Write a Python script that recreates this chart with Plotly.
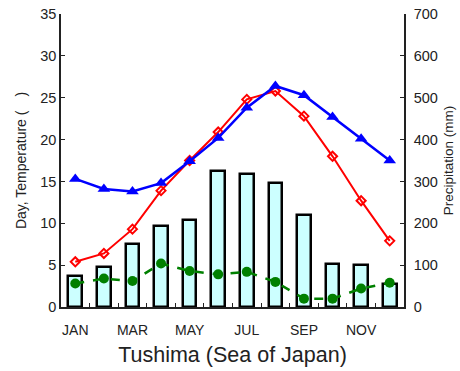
import plotly.graph_objects as go

months = ["JAN", "FEB", "MAR", "APR", "MAY", "JUN",
          "JUL", "AUG", "SEP", "OCT", "NOV", "DEC"]
month_idx = list(range(1, 13))

# Monthly precipitation (mm), right axis
precipitation = [75, 95, 150, 193, 207, 324, 318, 296, 220, 103, 101, 56]
# Air temperature, left axis
air_temp = [5.4, 6.4, 9.3, 13.9, 17.5, 20.9, 24.8, 25.8, 22.8, 18.0, 12.7, 7.9]
# Sea surface temperature, left axis
sea_temp = [15.3, 14.1, 13.8, 14.8, 17.4, 20.2, 23.8, 26.4, 25.3, 22.7, 20.1, 17.5]
# Days, left axis
days = [2.8, 3.4, 3.1, 5.2, 4.3, 3.9, 4.2, 3.0, 1.0, 1.0, 2.2, 2.9]

label_months = [1, 3, 5, 7, 9, 11]
label_text = [months[i - 1] for i in label_months]
boundary_ticks = [m + 0.5 for m in range(1, 12)]

FONT = "Liberation Sans, Arial, sans-serif"
INK = "#222222"

fig = go.Figure()

# Precipitation bars sit on the base y axis (drawn underneath)
fig.add_trace(go.Bar(
    x=month_idx, y=precipitation, yaxis="y", xaxis="x",
    width=0.48,
    marker=dict(color="#ccffff", line=dict(color="black", width=2.5)),
    showlegend=False,
))

# Lines live on the overlaying axis so they render above the bars
fig.add_trace(go.Scatter(
    x=month_idx, y=days, yaxis="y2", xaxis="x",
    mode="lines+markers",
    line=dict(color="#008000", width=2.5, dash="dash"),
    marker=dict(symbol="circle", size=10, color="#008000"),
    showlegend=False,
))
fig.add_trace(go.Scatter(
    x=month_idx, y=air_temp, yaxis="y2", xaxis="x",
    mode="lines+markers",
    line=dict(color="#ff0000", width=2),
    marker=dict(symbol="diamond-open", size=7, color="#ff0000",
                line=dict(width=2, color="#ff0000")),
    showlegend=False,
))
fig.add_trace(go.Scatter(
    x=month_idx, y=sea_temp, yaxis="y2", xaxis="x",
    mode="lines+markers",
    line=dict(color="#0000ff", width=2.5),
    marker=dict(symbol="triangle-up", size=11, color="#0000ff"),
    showlegend=False,
))

axis_font = dict(family=FONT, size=14.5, color=INK)

fig.update_layout(
    width=460, height=371,
    margin=dict(l=61, r=56, t=14, b=64),
    paper_bgcolor="white", plot_bgcolor="white",
    bargap=0,
    xaxis=dict(
        range=[0.5, 12.5], tickvals=label_months, ticktext=label_text,
        ticks="", showline=True, linecolor=INK, linewidth=1.5,
        tickfont=dict(family=FONT, size=14, color=INK),
        ticklabelstandoff=9, automargin=False,
        showgrid=False, zeroline=False,
        title=dict(text="Tushima (Sea of Japan)",
                   font=dict(family=FONT, size=21.5, color=INK),
                   standoff=10),
    ),
    xaxis2=dict(
        overlaying="x", range=[0.5, 12.5], tickvals=boundary_ticks,
        showticklabels=False, ticks="inside", ticklen=4, tickwidth=1,
        tickcolor=INK, showgrid=False, zeroline=False, showline=False,
        automargin=False,
    ),
    yaxis=dict(
        side="right", range=[0, 700], tickvals=list(range(0, 701, 100)),
        ticks="inside", ticklen=4, tickcolor=INK,
        showline=True, linecolor=INK, linewidth=1.5,
        showgrid=False, zeroline=False, tickfont=axis_font,
        ticklabelstandoff=5, automargin=False,
        title=dict(text="Precipitation (mm)",
                   font=dict(family=FONT, size=13.5, color=INK),
                   standoff=7),
    ),
    yaxis2=dict(
        overlaying="y", side="left", range=[0, 35],
        tickvals=list(range(0, 36, 5)),
        ticks="inside", ticklen=4, tickcolor=INK,
        showline=True, linecolor=INK, linewidth=1.5,
        showgrid=False, zeroline=False, tickfont=axis_font,
        automargin=False,
        title=dict(text="Day, Temperature (\u2002\u2002)",
                   font=dict(family=FONT, size=14, color=INK),
                   standoff=10),
    ),
)

# Invisible trace to activate the boundary-tick axis
fig.add_trace(go.Scatter(x=[1], y=[0], xaxis="x2", yaxis="y",
                         mode="markers", marker=dict(opacity=0),
                         showlegend=False, hoverinfo="skip"))

fig.write_html("out.html")
